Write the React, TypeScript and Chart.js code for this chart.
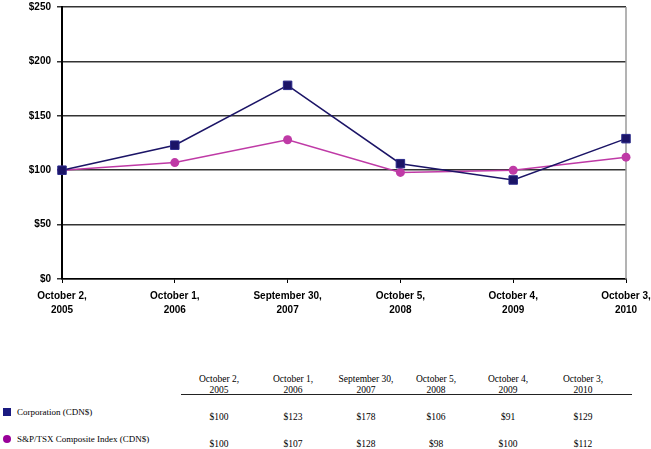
import React, { useEffect, useRef } from "react";
import { Chart, registerables } from "chart.js";

Chart.register(...registerables);

const categories: string[][] = [
  ["October 2,", "2005"],
  ["October 1,", "2006"],
  ["September 30,", "2007"],
  ["October 5,", "2008"],
  ["October 4,", "2009"],
  ["October 3,", "2010"],
];
const corporation: number[] = [100, 123, 178, 106, 91, 129];
const spTsx: number[] = [100, 107, 128, 98, 100, 112];
const seriesNames: string[] = ["Corporation (CDN$)", "S&P/TSX Composite Index (CDN$)"];
const yTicks: number[] = [0, 50, 100, 150, 200, 250];

const NAVY = "#1b1466";
const MAGENTA = "#bf3aa6";

const rightBorder = {
  id: "rightBorder",
  beforeDatasetsDraw(chart: any) {
    const { ctx, chartArea } = chart;
    ctx.save();
    ctx.strokeStyle = "#9a9a9a";
    ctx.lineWidth = 1.5;
    ctx.beginPath();
    ctx.moveTo(chartArea.right, chartArea.top);
    ctx.lineTo(chartArea.right, chartArea.bottom);
    ctx.stroke();
    ctx.restore();
  },
};

const colCenters = [219, 293, 366, 436, 508, 583];

export default function App() {
  const ref = useRef<HTMLCanvasElement | null>(null);

  useEffect(() => {
    if (!ref.current) return;
    const chart = new Chart(ref.current, {
      type: "line",
      data: {
        labels: categories,
        datasets: [
          {
            label: seriesNames[0],
            data: corporation,
            borderColor: NAVY,
            backgroundColor: NAVY,
            borderWidth: 1.5,
            pointStyle: "rect",
            pointRadius: 6,
            pointBorderColor: "#2a2a8a",
            pointBorderWidth: 1,
            tension: 0,
            clip: false,
          },
          {
            label: seriesNames[1],
            data: spTsx,
            borderColor: MAGENTA,
            backgroundColor: MAGENTA,
            borderWidth: 1.5,
            pointStyle: "circle",
            pointRadius: 4.5,
            pointBorderWidth: 0,
            tension: 0,
            clip: false,
          },
        ],
      },
      options: {
        animation: false,
        responsive: false,
        devicePixelRatio: 1,
        layout: { padding: { top: 6.5, left: 0, right: 25, bottom: 11 } },
        plugins: { legend: { display: false }, tooltip: { enabled: false } },
        scales: {
          x: {
            type: "category",
            offset: false,
            grid: {
              display: true,
              drawOnChartArea: false,
              drawTicks: true,
              tickLength: 4,
              color: "#000",
              lineWidth: 1,
            },
            border: { display: true, color: "#000", width: 1.5 },
            ticks: {
              autoSkip: false,
              maxRotation: 0,
              minRotation: 0,
              padding: 6,
              color: "#000",
              font: { family: "'Liberation Sans', Arial, sans-serif", size: 10, weight: "bold", lineHeight: 1.4 },
            },
            afterFit: (s: any) => {
              s.height = 40;
              s.paddingLeft = 0;
              s.paddingRight = 0;
            },
          },
          y: {
            min: 0,
            max: 250,
            afterBuildTicks: (s: any) => {
              s.ticks = yTicks.map((v) => ({ value: v }));
            },
            grid: {
              color: "#333",
              lineWidth: 1.5,
              drawTicks: true,
              tickLength: 5,
            },
            border: { display: true, color: "#000", width: 2 },
            ticks: {
              padding: 6,
              color: "#000",
              font: { family: "'Liberation Sans', Arial, sans-serif", size: 10, weight: "bold" },
              callback: (v: any) => "$" + v,
            },
            afterFit: (s: any) => {
              s.width = 62;
              s.paddingTop = 0;
              s.paddingBottom = 0;
            },
          },
        },
      },
      plugins: [rightBorder],
    });
    return () => chart.destroy();
  }, []);

  const serif = "'Liberation Serif', 'Times New Roman', serif";
  const cell = (x: number, y: number, text: string, size = 9.5) => (
    <div
      key={x + "-" + y + "-" + text}
      style={{
        position: "absolute",
        left: x,
        top: y,
        transform: "translate(-50%, -50%)",
        whiteSpace: "nowrap",
        fontFamily: serif,
        fontSize: size,
        lineHeight: 1,
        color: "#000",
      }}
    >
      {text}
    </div>
  );

  return (
    <div style={{ position: "absolute", left: 0, top: 0, width: 651, height: 449, background: "#fff" }}>
      <canvas ref={ref} width={651} height={330} style={{ position: "absolute", left: 0, top: 0, width: 651, height: 330 }} />
      {categories.map((c, i) => cell(colCenters[i], 380, c[0]))}
      {categories.map((c, i) => cell(colCenters[i], 391, c[1]))}
      <div style={{ position: "absolute", left: 181, top: 394, width: 451, height: 1, background: "#222" }} />
      <div style={{ position: "absolute", left: 3, top: 408, width: 8, height: 8, background: "#1a1a80" }} />
      <div style={{ position: "absolute", left: 3, top: 435, width: 8, height: 8, borderRadius: "50%", background: "#990099" }} />
      <div style={{ position: "absolute", left: 17, top: 412, transform: "translateY(-50%)", fontFamily: serif, fontSize: 9, lineHeight: 1, whiteSpace: "nowrap" }}>{seriesNames[0]}</div>
      <div style={{ position: "absolute", left: 17, top: 439, transform: "translateY(-50%)", fontFamily: serif, fontSize: 9, lineHeight: 1, whiteSpace: "nowrap" }}>{seriesNames[1]}</div>
      {corporation.map((v, i) => cell(colCenters[i], 418, "$" + v))}
      {spTsx.map((v, i) => cell(colCenters[i], 445, "$" + v))}
    </div>
  );
}
